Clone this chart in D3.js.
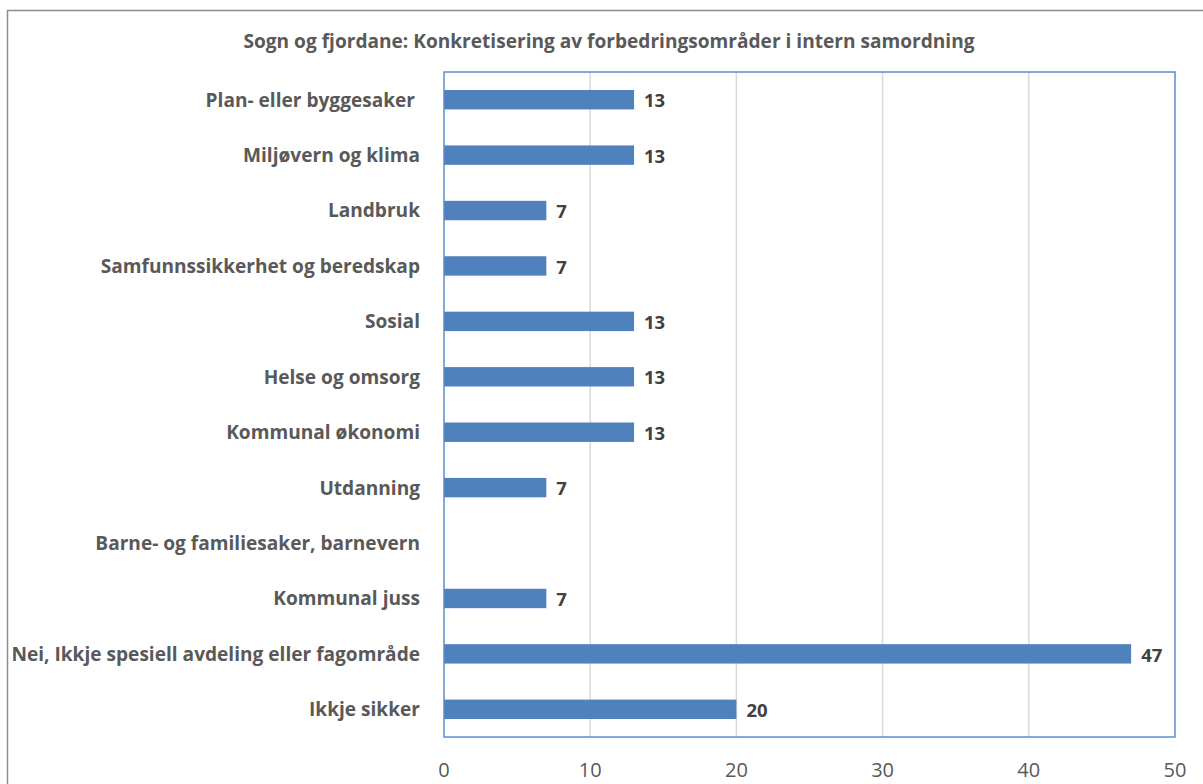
<!DOCTYPE html>
<html>
<head>
<meta charset="utf-8">
<script src="https://cdn.jsdelivr.net/npm/d3@7"></script>
<style>
  body { margin: 0; background: #fff; }
  text { font-family: "Open Sans", "Noto Sans", sans-serif; }
</style>
</head>
<body>
<svg id="chart" width="1203" height="784"></svg>
<script>
// chart data, top to bottom
const title = 'Sogn og fjordane: Konkretisering av forbedringsområder i intern samordning';
const categories = [
    'Plan- eller byggesaker ',
    'Miljøvern og klima',
    'Landbruk',
    'Samfunnssikkerhet og beredskap',
    'Sosial',
    'Helse og omsorg',
    'Kommunal økonomi',
    'Utdanning',
    'Barne- og familiesaker, barnevern',
    'Kommunal juss',
    'Nei, Ikkje spesiell avdeling eller fagområde',
    'Ikkje sikker'
];
const values = [13, 13, 7, 7, 13, 13, 13, 7, null, 7, 47, 20];
const xTicks = [0, 10, 20, 30, 40, 50];

const data = categories.map((c, i) => ({ cat: c, val: values[i] }));

const svg = d3.select('#chart');

// outer chart frame (runs off the right and bottom)
svg.append('rect')
    .attr('x', 7.5).attr('y', 10.5)
    .attr('width', 1220).attr('height', 800)
    .attr('fill', 'none').attr('stroke', '#8c8c8c').attr('stroke-width', 1.5);

const plot = { left: 444, right: 1175, top: 72, bottom: 737 };

const x = d3.scaleLinear()
    .domain([0, 50])
    .range([plot.left, plot.right]);

const y = d3.scaleBand()
    .domain(categories)
    .range([plot.top, plot.bottom])
    .paddingInner(0.65)
    .paddingOuter(0.325);

// gridlines
svg.append('g')
    .selectAll('line')
    .data(xTicks.slice(1, -1))
    .enter()
    .append('line')
    .attr('x1', d => x(d)).attr('x2', d => x(d))
    .attr('y1', plot.top).attr('y2', plot.bottom)
    .attr('stroke', '#d9d9d9').attr('stroke-width', 1.5);

// bars
svg.append('g')
    .selectAll('rect')
    .data(data.filter(d => d.val != null))
    .enter()
    .append('rect')
    .attr('x', x(0))
    .attr('y', d => y(d.cat))
    .attr('width', d => x(d.val) - x(0))
    .attr('height', y.bandwidth())
    .attr('fill', '#4f81bd');

// plot area border
svg.append('rect')
    .attr('x', plot.left).attr('y', plot.top)
    .attr('width', plot.right - plot.left).attr('height', plot.bottom - plot.top)
    .attr('fill', 'none').attr('stroke', '#5b8ccf').attr('stroke-width', 1.5);

// value labels
svg.append('g')
    .selectAll('text')
    .data(data.filter(d => d.val != null))
    .enter()
    .append('text')
    .attr('x', d => x(d.val) + 10)
    .attr('y', d => y(d.cat) + y.bandwidth() / 2 + 1)
    .attr('dy', '0.36em')
    .attr('font-size', 18.5).attr('font-weight', 'bold')
    .attr('fill', '#404040')
    .text(d => d.val);

// category labels
svg.append('g')
    .selectAll('text')
    .data(categories)
    .enter()
    .append('text')
    .attr('x', 420)
    .attr('y', d => y(d) + y.bandwidth() / 2)
    .attr('dy', '0.36em')
    .attr('text-anchor', 'end')
    .attr('font-size', 19.1).attr('font-weight', 'bold')
    .attr('fill', '#595959')
    .style('white-space', 'pre')
    .text(d => d);

// x axis tick labels
svg.append('g')
    .selectAll('text')
    .data(xTicks)
    .enter()
    .append('text')
    .attr('x', d => x(d))
    .attr('y', 770)
    .attr('dy', '0.36em')
    .attr('text-anchor', 'middle')
    .attr('font-size', 20)
    .attr('fill', '#595959')
    .text(d => d);

// title
svg.append('text')
    .attr('x', 609).attr('y', 41)
    .attr('dy', '0.36em')
    .attr('text-anchor', 'middle')
    .attr('font-size', 19.1).attr('font-weight', 'bold')
    .attr('fill', '#595959')
    .text(title);
</script>
</body>
</html>
